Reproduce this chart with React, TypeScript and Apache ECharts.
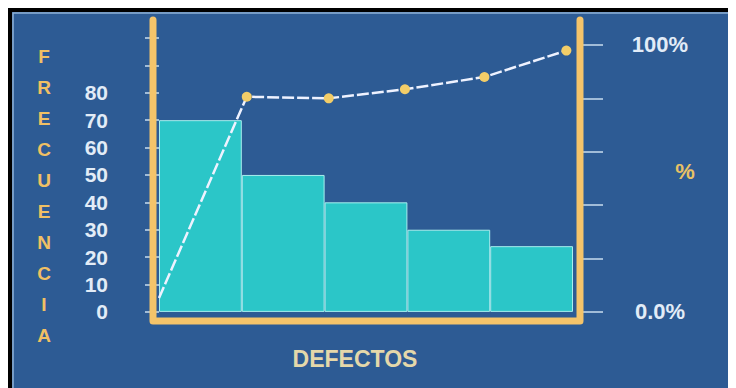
import React, { useEffect, useRef } from "react";
import * as echarts from "echarts";

const categories = ["Defecto 1", "Defecto 2", "Defecto 3", "Defecto 4", "Defecto 5"];
const frecuencia = [70, 50, 40, 30, 24];
const cumX = [0, 1.06, 2.05, 2.97, 3.93, 4.92];
const cumPct = [5.2, 80.6, 80.0, 83.4, 88.0, 97.9];
const leftTicks = [0, 10, 20, 30, 40, 50, 60, 70, 80, 90, 100];
const leftLabels = [0, 10, 20, 30, 40, 50, 60, 70, 80];
const rightTicks = [0, 20, 40, 60, 80, 100];
const rightLabels = [0, 100];
const yTitle = "FRECUENCIA";
const xTitle = "DEFECTOS";
const rTitle = "%";

const FONT = "'Liberation Sans', Arial, sans-serif";
const ORANGE = "#f4c46a";

export default function App() {
  const ref = useRef<HTMLDivElement>(null);
  useEffect(() => {
    if (!ref.current) return;
    const chart = echarts.init(ref.current, null, { renderer: "svg" });
    chart.setOption({
      animation: false,
      backgroundColor: "#2d5b94",
      grid: { left: 151, right: 163, top: 30, bottom: 72, containLabel: false },
      xAxis: [
        {
          type: "category",
          data: categories,
          axisLine: { show: false },
          axisTick: { show: false },
          axisLabel: { show: false },
          splitLine: { show: false },
        },
        {
          type: "value",
          min: 0,
          max: 5,
          show: false,
          splitLine: { show: false },
        },
      ],
      yAxis: [
        {
          type: "value",
          min: -1.5,
          max: 100,
          offset: 9,
          axisLine: { show: false },
          axisTick: {
            show: true,
            length: 14,
            customValues: leftTicks,
            lineStyle: { color: "#c9dcef", width: 1.5 },
          },
          axisLabel: {
            customValues: leftLabels,
            margin: 42,
            color: "#e2ecf7",
            fontFamily: FONT,
            fontWeight: "bold",
            fontSize: 21,
          },
          splitLine: { show: false },
        },
        {
          type: "value",
          position: "right",
          min: -1.5,
          max: 102.6,
          offset: 10,
          axisLine: { show: false },
          axisTick: {
            show: true,
            length: 20,
            customValues: rightTicks,
            lineStyle: { color: "#c9dcef", width: 1.5 },
          },
          axisLabel: {
            customValues: rightLabels,
            margin: 77,
            align: "center",
            color: "#e2ecf7",
            fontFamily: FONT,
            fontWeight: "bold",
            fontSize: 22,
            formatter: (v: number) => (v === 0 ? "0.0%" : v + "%"),
          },
          splitLine: { show: false },
        },
      ],
      series: [
        {
          type: "bar",
          data: frecuencia,
          barCategoryGap: "0%",
          itemStyle: { color: "#2bc6c8", borderColor: "#a8eeee", borderWidth: 1 },
          silent: true,
        },
        {
          type: "line",
          xAxisIndex: 1,
          yAxisIndex: 1,
          data: cumX.map((x, i) =>
            i === 0 ? { value: [x, cumPct[i]], symbol: "none" } : { value: [x, cumPct[i]] }
          ),
          symbol: "circle",
          symbolSize: 10,
          itemStyle: { color: "#f2cd68" },
          lineStyle: { color: "#eef2ff", width: 2.5, type: [12, 3] },
          z: 5,
        },
      ],
      graphic: [
        { type: "rect", shape: { x: 0, y: 0, width: 728, height: 4 }, style: { fill: "#000" } },
        { type: "rect", shape: { x: 0, y: 0, width: 4, height: 380 }, style: { fill: "#000" } },
        {
          type: "polyline",
          shape: { points: [[5, 380], [5, 5], [728, 5]] },
          style: { stroke: "#8fb2d6", lineWidth: 1.5, fill: null },
        },
        {
          type: "polyline",
          z: 10,
          shape: { points: [[145, 12], [145, 313], [572, 313], [572, 12]] },
          style: { stroke: ORANGE, lineWidth: 7, lineJoin: "round", lineCap: "round", fill: null },
        },
        {
          type: "text",
          x: 36,
          y: 33,
          style: {
            text: yTitle.split("").join("\n"),
            fill: "#f0c064",
            font: `bold 19px ${FONT}`,
            lineHeight: 31,
            align: "center",
            verticalAlign: "top",
          },
        },
        {
          type: "text",
          x: 347,
          y: 351,
          style: {
            text: xTitle,
            fill: "#e4d8aa",
            font: `bold 23px ${FONT}`,
            align: "center",
            verticalAlign: "middle",
          },
        },
        {
          type: "text",
          x: 677,
          y: 163,
          style: {
            text: rTitle,
            fill: "#e8c266",
            font: `bold 22px ${FONT}`,
            align: "center",
            verticalAlign: "middle",
          },
        },
      ],
    });
    return () => chart.dispose();
  }, []);
  return <div ref={ref} style={{ width: 728, height: 380 }} />;
}
